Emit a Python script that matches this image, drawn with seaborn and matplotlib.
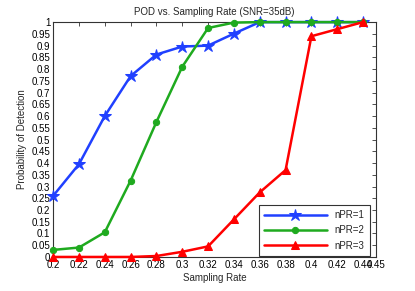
import pandas as pd
import matplotlib
matplotlib.use("Agg")
import matplotlib.pyplot as plt
import seaborn as sns
import numpy as np

### Dados
taxa = [0.20, 0.22, 0.24, 0.26, 0.28, 0.30, 0.32, 0.34, 0.36, 0.38, 0.40, 0.42, 0.44]
npr1 = [0.26, 0.395, 0.60, 0.77, 0.862, 0.896, 0.90, 0.951, 1.0, 1.0, 1.0, 1.0, 1.0]
npr2 = [0.03, 0.04, 0.105, 0.325, 0.575, 0.81, 0.975, 0.998, 1.0, 1.0, 1.0, 1.0, 1.0]
npr3 = [0.0, 0.0, 0.0, 0.0, 0.004, 0.022, 0.045, 0.16, 0.275, 0.37, 0.94, 0.97, 1.0]
rotulos = ["nPR=1", "nPR=2", "nPR=3"]
xticks = [0.2, 0.22, 0.24, 0.26, 0.28, 0.3, 0.32, 0.34, 0.36, 0.38, 0.4, 0.42, 0.44, 0.45]

dados = pd.DataFrame({
    "taxa": taxa * 3,
    "pod": npr1 + npr2 + npr3,
    "serie": [rotulos[0]] * len(taxa) + [rotulos[1]] * len(taxa) + [rotulos[2]] * len(taxa),
})

sns.set_style("white")
plt.rcParams["font.family"] = ["Liberation Sans", "DejaVu Sans"]
plt.rcParams["font.size"] = 7

fig = plt.figure(figsize=(4.15, 2.91), dpi=100)
ax = fig.add_axes([0.128, 0.117, 0.778, 0.807])

cores = {"nPR=1": "#2040ff", "nPR=2": "#1faa1f", "nPR=3": "#ff0000"}
marcadores = {"nPR=1": "*", "nPR=2": "o", "nPR=3": "^"}
tamanhos = {"nPR=1": 9, "nPR=2": 4.5, "nPR=3": 6}
for s in rotulos:
    d = dados[dados["serie"] == s]
    sns.lineplot(data=d, x="taxa", y="pod", ax=ax, color=cores[s], marker=marcadores[s],
                 markersize=tamanhos[s], markeredgecolor=cores[s], linewidth=1.8, label=s,
                 clip_on=False, zorder=3)

ax.set_xlim(0.2, 0.45)
ax.set_ylim(0, 1)
ax.set_xticks(xticks)
ax.set_xticklabels([f"{v:g}" for v in xticks])
yt = np.round(np.arange(0, 1.0001, 0.05), 2)
ax.set_yticks(yt)
ax.set_yticklabels([f"{v:g}" for v in yt])
ax.tick_params(direction="in", top=True, right=True, length=3, width=0.6, labelsize=7, pad=2,
               colors="#333333", labelcolor="black")
for sp in ax.spines.values():
    sp.set_color("#333333")
    sp.set_linewidth(0.8)
ax.set_xlabel("Sampling Rate", fontsize=7, labelpad=2)
ax.set_ylabel("Probability of Detection", fontsize=7, labelpad=3)
ax.set_title("POD vs. Sampling Rate (SNR=35dB)", fontsize=7, pad=5)
ax.grid(False)

leg = ax.legend(loc="lower right", fontsize=7, frameon=True, fancybox=False, borderpad=0.5,
                handlelength=6.5, labelspacing=0.55, bbox_to_anchor=(0.995, -0.015))
leg.get_frame().set_edgecolor("black")
leg.get_frame().set_linewidth(0.8)

fig.savefig("out.png", dpi=100)
